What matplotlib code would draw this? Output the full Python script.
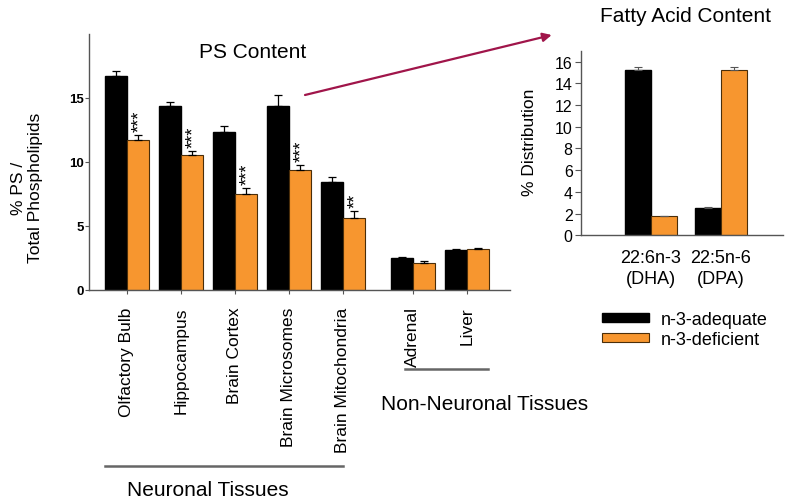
import numpy as np
import matplotlib
matplotlib.use("Agg")
import matplotlib.pyplot as plt
from matplotlib.patches import Patch
from matplotlib.lines import Line2D

plt.rcParams['font.family'] = ['Liberation Sans', 'DejaVu Sans']

# PS content per tissue
tissues = ['Olfactory Bulb', 'Hippocampus', 'Brain Cortex', 'Brain Microsomes',
           'Brain Mitochondria', 'Adrenal', 'Liver']
ps_adequate = [16.7, 14.4, 12.3, 14.4, 8.4, 2.45, 3.1]
ps_adequate_err = [0.4, 0.3, 0.5, 0.8, 0.45, 0.1, 0.1]
ps_deficient = [11.7, 10.5, 7.5, 9.35, 5.6, 2.1, 3.15]
ps_deficient_err = [0.4, 0.35, 0.45, 0.4, 0.55, 0.15, 0.12]
stars = ['***', '***', '***', '***', '**', '', '']

# fatty acid content
fa_labels = ['22:6n-3\n(DHA)', '22:5n-6\n(DPA)']
fa_adequate = [15.2, 2.5]
fa_adequate_err = [0.3, 0.12]
fa_deficient = [1.75, 15.2]
fa_deficient_err = [0.0, 0.3]

BLACK = '#000000'
ORANGE = '#F7962F'
ORANGE_EDGE = '#4a2e0a'
AXIS = '#555555'

fig = plt.figure(figsize=(8, 5.02), dpi=100)

# ---- left panel
ax = fig.add_axes([89/800, 1 - 290.7/502, 421/800, (290.7 - 35)/502])
x = np.arange(len(tissues), dtype=float)
x[5:] += 0.3
w = 0.41
ax.bar(x - w/2, ps_adequate, w, color=BLACK, edgecolor=BLACK)
ax.bar(x + w/2, ps_deficient, w, color=ORANGE, edgecolor=ORANGE_EDGE, linewidth=0.8)
ax.errorbar(x - w/2, ps_adequate, yerr=[np.zeros(len(x)), ps_adequate_err],
            fmt='none', ecolor='black', elinewidth=0.9, capsize=3, capthick=0.9)
ax.errorbar(x + w/2, ps_deficient, yerr=[np.zeros(len(x)), ps_deficient_err],
            fmt='none', ecolor='black', elinewidth=0.9, capsize=3, capthick=0.9)
for xi, yv, e, s in zip(x, ps_deficient, ps_deficient_err, stars):
    if s:
        ax.text(xi + w/2 + 0.04, yv + e + 0.3, s, rotation=90, ha='center', va='bottom',
                fontsize=13)

ax.set_xlim(-0.698, 7.1)
ax.set_ylim(0, 20)
ax.set_yticks([0, 5, 10, 15])
ax.set_yticklabels(['0', '5', '10', '15'], fontweight='bold', fontsize=9.5)
ax.set_xticks(x)
ax.set_xticklabels(tissues, rotation=90, fontsize=12.5, va='top')
ax.tick_params(axis='y', length=3, width=0.8, pad=1, color=AXIS)
ax.tick_params(axis='x', length=3, width=0.8, pad=9, color=AXIS)
for side in ['top', 'right']:
    ax.spines[side].set_visible(False)
for side in ['left', 'bottom']:
    ax.spines[side].set_color(AXIS)
    ax.spines[side].set_linewidth(1.0)

fig.text(27/800, 1 - 188/502, '% PS /\nTotal Phospholipids', rotation=90,
         ha='center', va='center', fontsize=12.5, multialignment='center')
fig.text(253/800, 1 - 53/502, 'PS Content', ha='center', va='center', fontsize=15)

# group brackets
fig.add_artist(Line2D([105/800, 343/800], [1 - 466.7/502] * 2, color='#666666', lw=1.8))
fig.add_artist(Line2D([405/800, 488/800], [1 - 370/502] * 2, color='#666666', lw=1.8))
fig.text(207.5/800, 1 - 496/502, 'Neuronal Tissues', ha='center', va='baseline', fontsize=15)
fig.text(485/800, 1 - 410/502, 'Non-Neuronal Tissues', ha='center', va='baseline', fontsize=15)

# ---- right panel
ax2 = fig.add_axes([581/800, 1 - 236.3/502, 202/800, (236.3 - 51.7)/502])
x2 = np.arange(len(fa_labels), dtype=float)
w2 = 0.37
ax2.bar(x2 - w2/2, fa_adequate, w2, color=BLACK, edgecolor=BLACK)
ax2.bar(x2 + w2/2, fa_deficient, w2, color=ORANGE, edgecolor=ORANGE_EDGE, linewidth=0.8)
ax2.errorbar(x2 - w2/2, fa_adequate, yerr=[np.zeros(2), fa_adequate_err],
             fmt='none', ecolor='#555555', elinewidth=0.8, capsize=3, capthick=0.8)
ax2.errorbar(x2 + w2/2, fa_deficient, yerr=[np.zeros(2), fa_deficient_err],
             fmt='none', ecolor='#555555', elinewidth=0.8, capsize=3, capthick=0.8)
ax2.set_xlim(-1.0, 1.886)
ax2.set_ylim(0, 17)
ax2.set_yticks(range(0, 17, 2))
ax2.tick_params(axis='y', length=4, width=0.8, labelsize=11.5, pad=2, color=AXIS)
ax2.set_xticks(x2)
ax2.set_xticklabels(fa_labels, fontsize=13, linespacing=1.3)
ax2.tick_params(axis='x', length=0, pad=10)
for side in ['top', 'right']:
    ax2.spines[side].set_visible(False)
for side in ['left', 'bottom']:
    ax2.spines[side].set_color(AXIS)
    ax2.spines[side].set_linewidth(1.0)

fig.text(530/800, 1 - 142/502, '% Distribution', rotation=90, ha='center',
         va='center', fontsize=12.5)
fig.text(685/800, 1 - 17/502, 'Fatty Acid Content', ha='center', va='center', fontsize=15)

# arrow between panels
ax.annotate('', xy=(551.7/800, 1 - 36/502), xycoords='figure fraction',
            xytext=(305/800, 1 - 96/502), textcoords='figure fraction',
            arrowprops=dict(arrowstyle='-|>', color='#a0154a', lw=1.6,
                            mutation_scale=13, shrinkA=0, shrinkB=0))

# legend
handles = [Patch(facecolor=BLACK, edgecolor=BLACK),
           Patch(facecolor=ORANGE, edgecolor=ORANGE_EDGE, linewidth=0.8)]
fig.legend(handles, ['n-3-adequate', 'n-3-deficient'], loc='upper left',
           bbox_to_anchor=(601.7/800, 1 - 312/502), frameon=False, fontsize=13,
           handlelength=2.6, handleheight=0.4, handletextpad=0.7,
           labelspacing=0.15, borderpad=0, borderaxespad=0)

fig.savefig('out.png', dpi=100)
